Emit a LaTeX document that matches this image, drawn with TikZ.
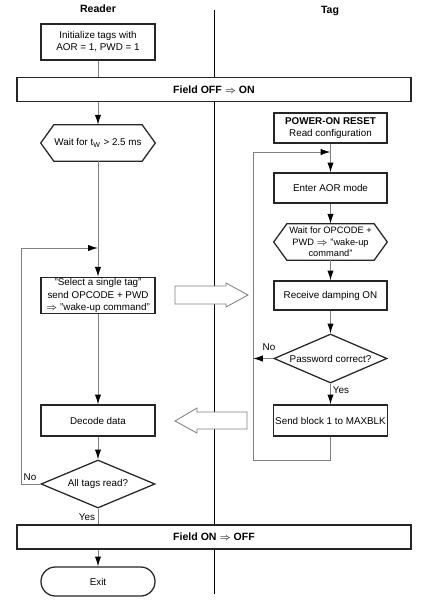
\documentclass[tikz,border=0pt]{standalone}
\usepackage{fontspec}
\setmainfont{Liberation Sans}
\usetikzlibrary{calc, arrows.meta, shapes.geometric}

\tikzset{
  box/.style={draw=black!85, line width=0.9pt, fill=white, minimum width=2.85cm,
    inner sep=1pt, align=center, font=\fontsize{7}{8.6}\selectfont},
  hexbox/.style={minimum width=2.85cm, minimum height=0.9cm, inner sep=1pt,
    align=center, font=\fontsize{7}{8.6}\selectfont},
  bar/.style={draw=black!85, line width=0.9pt, fill=white, minimum width=9.85cm,
    minimum height=0.6cm, font=\fontsize{7.5}{9}\selectfont\bfseries},
  decision/.style={diamond, aspect=2.35, draw=black!85, line width=0.9pt, fill=white,
    minimum width=2.85cm, minimum height=1.2cm, inner sep=0pt,
    font=\fontsize{7}{8.6}\selectfont},
  flow/.style={draw=gray, line width=0.7pt},
  flowarrow/.style={flow, -{Latex[length=7pt,width=4.5pt,black]}},
  lbl/.style={font=\fontsize{7}{8}\selectfont},
  heading/.style={font=\fontsize{7.5}{9}\selectfont\bfseries},
  bigarrow/.style={draw=gray, line width=0.6pt, fill=white}
}

% hexagon frame round a plain node
\newcommand{\hexframe}[1]{%
  \draw[draw=black!85, line width=0.9pt] (#1.west) -- ([xshift=0.33cm]#1.north west)
    -- ([xshift=-0.33cm]#1.north east) -- (#1.east)
    -- ([xshift=-0.33cm]#1.south east) -- ([xshift=0.33cm]#1.south west) -- cycle;}

\begin{document}
\begin{tikzpicture}[x=0.025cm, y=-0.025cm]

\useasboundingbox (0,0) rectangle (433,600);

% lanes
  \node[heading] (reader) at (98,9) {Reader};
  \node[heading] (tag) at (330,11) {Tag};
  \coordinate (divtop) at (214,10);
  \coordinate (divbot) at (214,594);
  \draw[line width=0.5pt] (divtop) -- (divbot);

% reader side
\node[box, minimum height=0.9cm] (init) at (98,42) {Initialize tags with\\AOR = 1, PWD = 1};
\node[bar] (fieldon) at (214,89.5) {Field OFF $\Rightarrow$ ON};
\node[hexbox] (waitr) at (98,143) {Wait for t\textsubscript{W} > 2.5 ms};
\hexframe{waitr}
\node[box, minimum height=0.875cm] (select) at (98,295.5) {"Select a single tag"\\send OPCODE + PWD\\$\Rightarrow$ "wake-up command"};
\node[box, minimum height=0.775cm] (decode) at (98,420.5) {Decode data};
\node[decision] (alltags) at (98,484) {All tags read?};
\node[bar] (fieldoff) at (214,537) {Field ON $\Rightarrow$ OFF};
\node[box, minimum height=0.725cm, rounded corners=0.36cm] (exit) at (98,581.5) {Exit};

% tag side
\node[box, minimum width=2.825cm, minimum height=0.75cm] (por) at (330.5,128) {\textbf{POWER-ON RESET}\\Read configuration};
\node[box, minimum width=2.825cm, minimum height=0.75cm] (aor) at (330.5,188) {Enter AOR mode};
\node[hexbox, minimum width=2.825cm, font=\fontsize{6.6}{8.2}\selectfont] (waitt) at (330.5,242) {Wait for OPCODE +\\PWD $\Rightarrow$ "wake-up\\command"};
\hexframe{waitt}
\node[box, minimum width=2.825cm, minimum height=0.725cm] (damp) at (330.5,295.5) {Receive damping ON};
\node[decision, minimum width=2.825cm, minimum height=1.225cm] (pwd) at (330.5,358.5) {Password correct?};
\node[box, minimum width=2.825cm, minimum height=0.775cm] (send) at (330.5,420.5) {Send block 1 to MAXBLK};

% loop corners
\coordinate (lloop) at (21,248);
\coordinate (rtop) at (253,152);
\coordinate (rbot) at (253,460);
\coordinate (rno) at (253,358.5);

% reader flow
  \draw[flow] (init) -- (init |- fieldon.north);
  \draw[flowarrow] (init |- fieldon.south) -- (waitr);
  \draw[flowarrow] (waitr) -- (select);
  \draw[flowarrow] (select) -- (decode);
  \draw[flowarrow] (decode) -- (alltags);
  \draw[flowarrow] (alltags.west) -| (lloop) -- (select |- lloop);
  \draw[flow] (alltags.south) -- (init |- fieldoff.north);
  \draw[flowarrow] (init |- fieldoff.south) -- (exit);
  \node[lbl] (noa) at (30,477) {No};
  \node[lbl] (yesa) at (87,517) {Yes};

% tag flow
  \draw[flowarrow] (por) -- (aor);
  \draw[flowarrow] (aor) -- (waitt);
  \draw[flowarrow] (waitt) -- (damp);
  \draw[flowarrow] (damp) -- (pwd);
  \draw[flowarrow] (pwd) -- (send);
  \draw[flowarrow] (pwd.west) -- (rno);
  \draw[flowarrow] (send.south) |- (rbot) -- (rtop) -- (por |- rtop);
  \node[lbl] (nob) at (269,347) {No};
  \node[lbl] (yesb) at (341,390) {Yes};

% big arrows between lanes
  \draw[bigarrow] (175,286) -- (226,286) -- (226,283) -- (248,295) -- (226,307)
    -- (226,304) -- (175,304) -- cycle;
  \draw[bigarrow] (247,412) -- (197,412) -- (197,408) -- (175,421) -- (197,433)
    -- (197,429) -- (247,429) -- cycle;

\end{tikzpicture}
\end{document}
